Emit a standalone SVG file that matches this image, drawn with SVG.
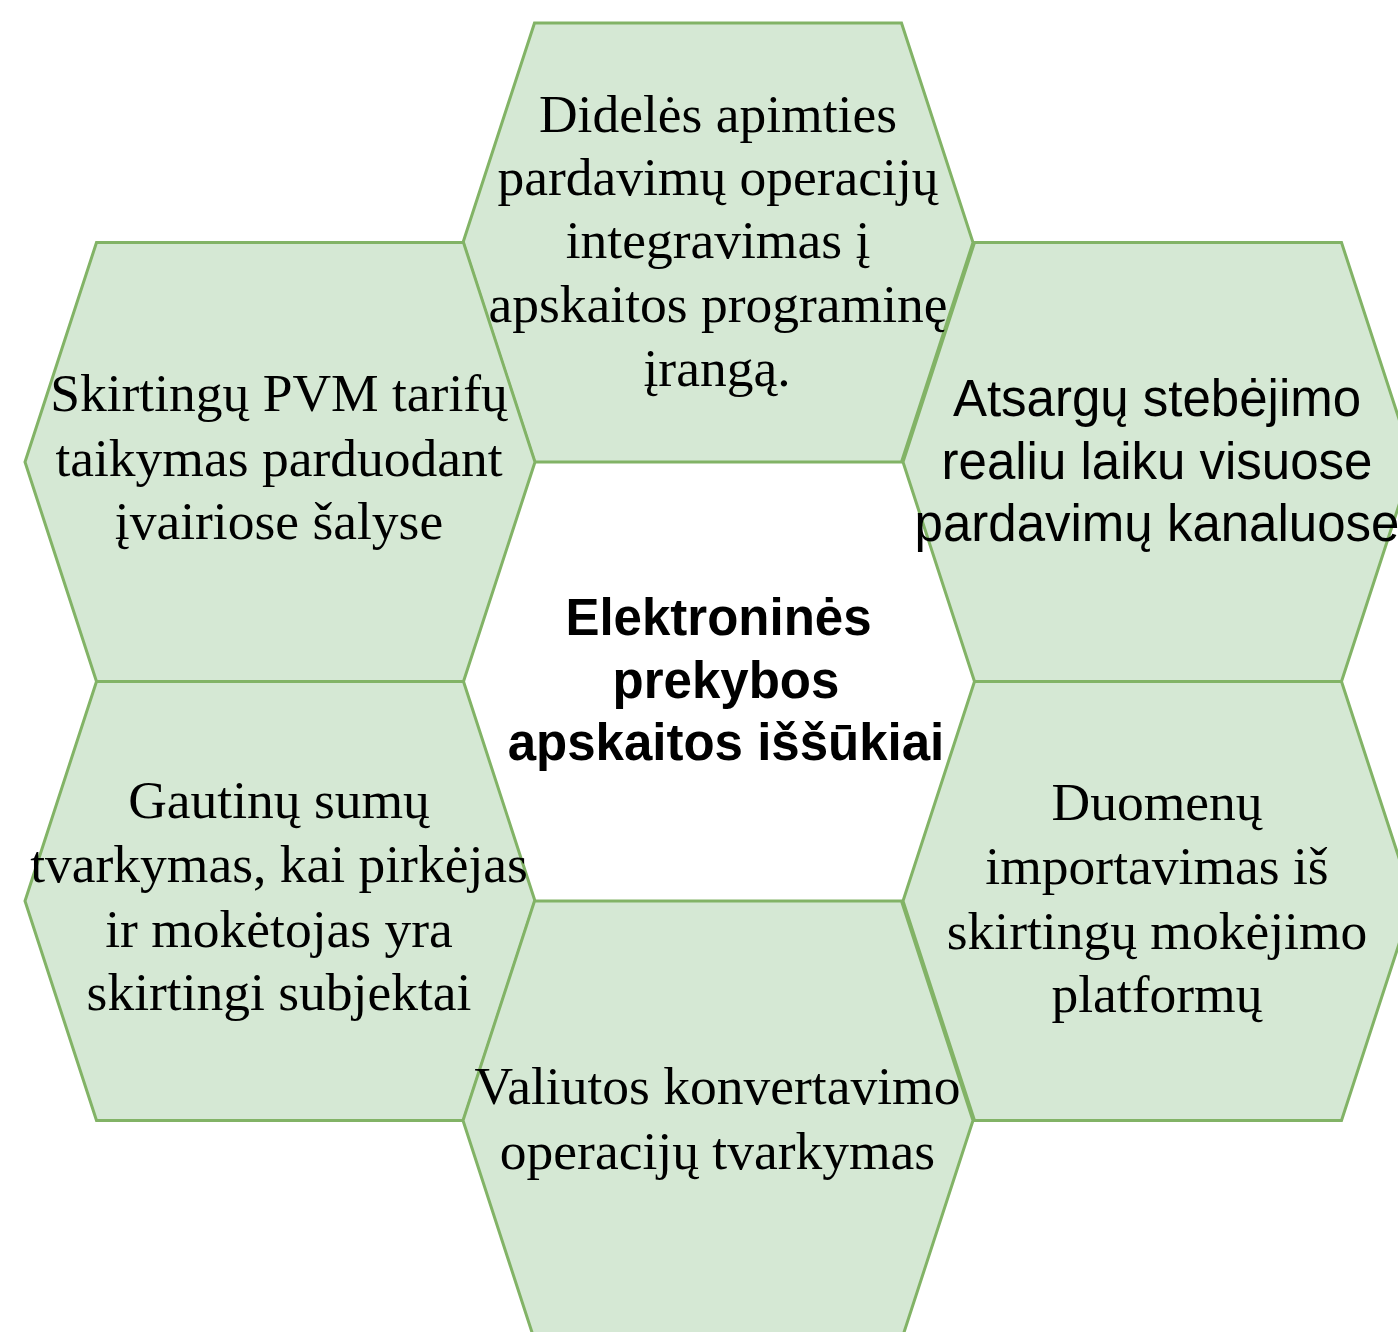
<svg xmlns="http://www.w3.org/2000/svg" width="1398" height="1332" viewBox="0 0 1398 1332">
<style>
.hex{fill:#d5e8d4;stroke:#82b366;stroke-width:3;stroke-linejoin:miter}
.serif{font-family:"Liberation Serif","Times New Roman",serif;font-size:53.5px;fill:#000;text-anchor:middle}
.sans{font-family:"Liberation Sans",Arial,sans-serif;font-size:51px;fill:#000;text-anchor:middle}
.bold{font-family:"Liberation Sans",Arial,sans-serif;font-size:51px;font-weight:bold;fill:#000;text-anchor:middle}
</style>
<rect width="1398" height="1332" fill="#ffffff"/>
<g id="connectors"></g>
<g id="hex-top">
<polygon class="hex" points="534.5,23 901.5,23 973,242.5 901.5,462 534.5,462 463,242.5"/>
<text class="serif" x="718" y="132">Didelės apimties</text>
<text class="serif" x="718" y="195">pardavimų operacijų</text>
<text class="serif" x="718" y="258">integravimas į</text>
<text class="serif" x="718" y="322">apskaitos programinę</text>
<text class="serif" x="717" y="386">įrangą.</text>
</g>
<g id="hex-left-top">
<polygon class="hex" points="96.5,242.5 463.5,242.5 535,462 463.5,681.5 96.5,681.5 25,462"/>
<text class="serif" x="279" y="411">Skirtingų PVM tarifų</text>
<text class="serif" x="279" y="476">taikymas parduodant</text>
<text class="serif" x="279" y="539">įvairiose šalyse</text>
</g>
<g id="hex-right-top">
<polygon class="hex" points="974.5,242.5 1341.5,242.5 1413,462 1341.5,681.5 974.5,681.5 903,462"/>
<text class="sans" x="1157" y="416">Atsargų stebėjimo</text>
<text class="sans" x="1157" y="479">realiu laiku visuose</text>
<text class="sans" x="1157" y="541">pardavimų kanaluose</text>
</g>
<g id="hex-left-bottom">
<polygon class="hex" points="96.5,681.5 463.5,681.5 535,901 463.5,1120.5 96.5,1120.5 25,901"/>
<text class="serif" x="279" y="818">Gautinų sumų</text>
<text class="serif" x="279" y="882">tvarkymas, kai pirkėjas</text>
<text class="serif" x="279" y="947">ir mokėtojas yra</text>
<text class="serif" x="279" y="1010">skirtingi subjektai</text>
</g>
<g id="hex-right-bottom">
<polygon class="hex" points="974.5,681.5 1341.5,681.5 1413,901 1341.5,1120.5 974.5,1120.5 903,901"/>
<text class="serif" x="1157" y="820">Duomenų</text>
<text class="serif" x="1157" y="884">importavimas iš</text>
<text class="serif" x="1157" y="949">skirtingų mokėjimo</text>
<text class="serif" x="1157" y="1012">platformų</text>
</g>
<g id="hex-bottom">
<polygon class="hex" points="534.5,901 901.5,901 973,1120.5 901.5,1340 534.5,1340 463,1120.5"/>
<text class="serif" x="717.5" y="1104">Valiutos konvertavimo</text>
<text class="serif" x="717.5" y="1169">operacijų tvarkymas</text>
</g>
<g id="center">
<text class="bold" x="718.5" y="635">Elektroninės</text>
<text class="bold" x="726" y="698">prekybos</text>
<text class="bold" x="726" y="760">apskaitos iššūkiai</text>
</g>
</svg>
